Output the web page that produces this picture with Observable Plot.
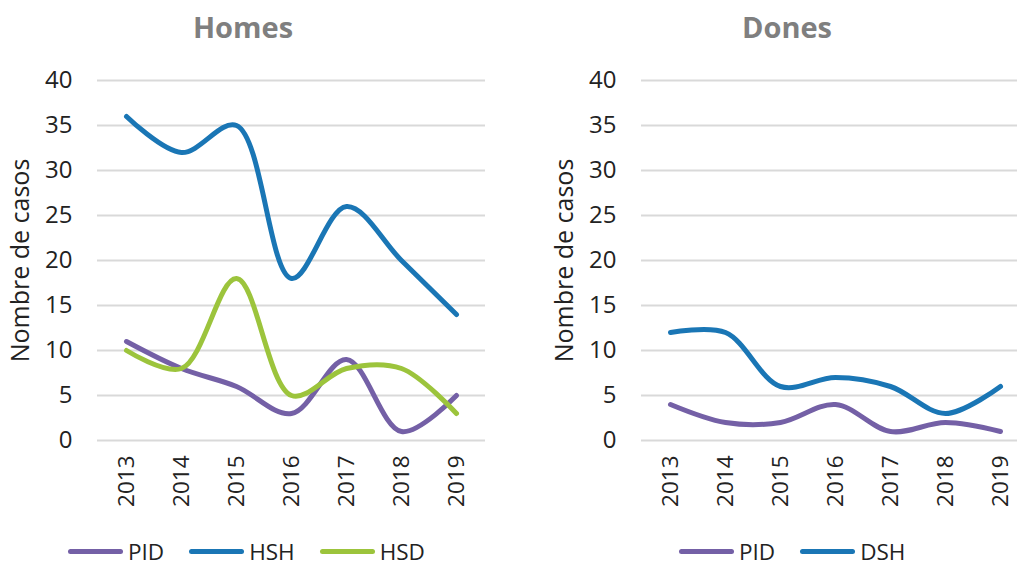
<!DOCTYPE html>
<html>
<head>
<meta charset="utf-8">
<script src="https://cdn.jsdelivr.net/npm/d3@7"></script>
<script src="https://cdn.jsdelivr.net/npm/@observablehq/plot@0.6"></script>
<style>
  html, body { margin: 0; padding: 0; background: #fff; overflow: hidden; }
  body { width: 1017px; height: 563px; position: relative; font-family: "Open Sans", sans-serif; color: #222; }
  .title { position: absolute; top: 7px; font-size: 29px; font-weight: 700; color: #7f7f7f; text-align: center; width: 300px; line-height: normal; }
  .plot { position: absolute; top: 60px; }
  .plot g[aria-label="y-axis tick label"] { font-size: 24px; }
  .plot g[aria-label="x-axis tick label"] { font-size: 22.5px; }
  .plot g[aria-label="text"] { font-size: 25px; }
  .legend { position: absolute; top: 536px; display: flex; align-items: center; font-size: 22.5px; color: #222; white-space: nowrap; }
  .item { display: flex; align-items: center; }
  .sw { display: inline-block; width: 55px; height: 5px; border-radius: 3px; margin-right: 5px; }
</style>
</head>
<body>
<script>
const years = ["2013", "2014", "2015", "2016", "2017", "2018", "2019"];
const yTicks = [0, 5, 10, 15, 20, 25, 30, 35, 40];

// Homes
const homesPID = [11, 8, 6, 3, 9, 1, 5];
const homesHSH = [36, 32, 35, 18, 26, 20, 14];
const homesHSD = [10, 8, 18, 5, 8, 8, 3];

// Dones
const donesPID = [4, 2, 2, 4, 1, 2, 1];
const donesDSH = [12, 12, 6, 7, 6, 3, 6];

const purple = "#7460a6";
const blue = "#1a76b5";
const green = "#9cc43c";

function makePanel(seriesList, title, left, titleCenter, legendLeft, legendGap) {
  const data = [];
  for (const s of seriesList) {
    s.values.forEach((v, i) => data.push({year: years[i], value: v, series: s.name}));
  }
  const chart = Plot.plot({
    width: 508,
    height: 460,
    marginLeft: 97,
    marginRight: 23,
    marginTop: 20,
    marginBottom: 80,
    style: {fontFamily: "Open Sans, sans-serif", color: "#222", background: "transparent", overflow: "visible"},
    x: {type: "point", domain: years, padding: 0.5},
    y: {domain: [0, 40]},
    marks: [
      Plot.ruleY(yTicks, {stroke: "#d9d9d9", strokeWidth: 2}),
      Plot.axisY({ticks: yTicks, tickSize: 0, tickPadding: 25, label: null, fontSize: 24}),
      Plot.axisX({tickSize: 0, tickPadding: 15, tickRotate: -90, label: null, fontSize: 22.5}),
      Plot.text(["Nombre de casos"], {frameAnchor: "left", textAnchor: "middle", dx: -77, rotate: -90, fontSize: 25, fill: "#222"}),
      ...seriesList.map(s => Plot.line(data.filter(d => d.series === s.name), {
        x: "year", y: "value", stroke: s.color, strokeWidth: 5, curve: "catmull-rom",
        strokeLinecap: "round", strokeLinejoin: "round"
      }))
    ]
  });
  chart.classList.add("plot");
  chart.style.left = left + "px";
  document.body.appendChild(chart);

  const t = document.createElement("div");
  t.className = "title";
  t.textContent = title;
  t.style.left = (titleCenter - 150) + "px";
  document.body.appendChild(t);

  const lg = document.createElement("div");
  lg.className = "legend";
  lg.style.left = legendLeft + "px";
  seriesList.forEach((s, i) => {
    const it = document.createElement("div");
    it.className = "item";
    if (i > 0) it.style.marginLeft = legendGap + "px";
    const sw = document.createElement("span");
    sw.className = "sw";
    sw.style.background = s.color;
    const lab = document.createElement("span");
    lab.textContent = s.name;
    it.appendChild(sw);
    it.appendChild(lab);
    lg.appendChild(it);
  });
  document.body.appendChild(lg);
}

makePanel([
  {name: "PID", values: homesPID, color: purple},
  {name: "HSH", values: homesHSH, color: blue},
  {name: "HSD", values: homesHSD, color: green}
], "Homes", 0, 243, 68, 25);

makePanel([
  {name: "PID", values: donesPID, color: purple},
  {name: "DSH", values: donesDSH, color: blue}
], "Dones", 544, 787, 679, 25);
</script>
</body>
</html>
